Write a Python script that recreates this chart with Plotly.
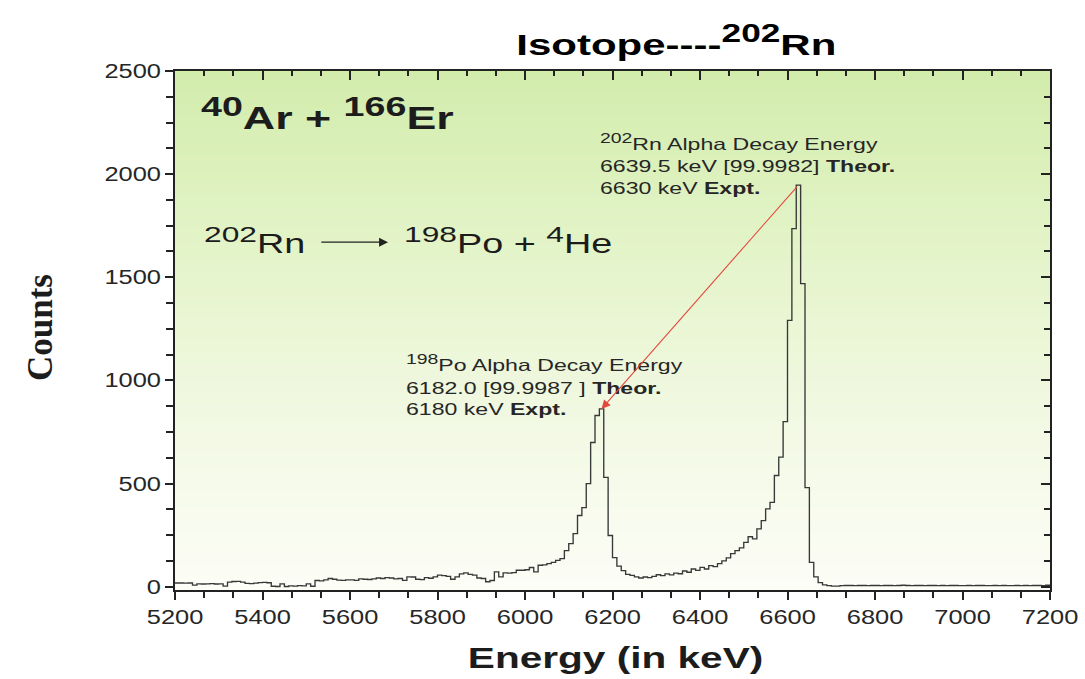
import numpy as np
import plotly.graph_objects as go

# ---------------- spectrum data: counts per 10 keV channel ----------------
E_MIN, E_MAX, CHANNEL_KEV = 5200, 7200, 10

counts_5200_5390 = [18, 18, 17, 18, 8, 14, 13, 14, 15, 13, 14, 3, 22, 25, 26, 22, 16, 15, 17, 20]
counts_5400_5590 = [21, 19, 2, 1, 14, 1, 4, 3, 5, 4, 14, 2, 30, 28, 33, 40, 36, 32, 31, 33]
counts_5600_5790 = [33, 31, 38, 36, 35, 38, 42, 40, 44, 42, 38, 40, 31, 48, 47, 36, 34, 44, 41, 48]
counts_5800_5990 = [56, 54, 50, 36, 48, 62, 67, 60, 56, 42, 40, 24, 30, 72, 48, 67, 66, 68, 80, 80]
counts_6000_6190 = [82, 93, 72, 104, 106, 112, 118, 128, 136, 175, 209, 257, 345, 383, 500, 699, 830, 862, 530, 248]
counts_6200_6390 = [141, 100, 78, 60, 55, 48, 42, 47, 44, 50, 58, 54, 62, 57, 66, 63, 76, 70, 86, 79]
counts_6400_6590 = [94, 86, 102, 97, 112, 125, 140, 160, 175, 188, 215, 242, 232, 280, 320, 377, 409, 539, 628, 800]
counts_6600_6790 = [1291, 1736, 1947, 1469, 480, 118, 48, 20, 9, 5, 3, 3, 5, 6, 6, 5, 6, 6, 5, 6]
counts_6800_6990 = [6, 5, 6, 6, 5, 6, 7, 6, 5, 6, 6, 5, 6, 6, 5, 6, 5, 6, 6, 5]
counts_7000_7190 = [5, 6, 5, 6, 6, 5, 5, 6, 5, 6, 5, 5, 6, 5, 6, 5, 6, 6, 5, 7]

counts = (counts_5200_5390 + counts_5400_5590 + counts_5600_5790 + counts_5800_5990
          + counts_6000_6190 + counts_6200_6390 + counts_6400_6590 + counts_6600_6790
          + counts_6800_6990 + counts_7000_7190)

# axis ticks
x_ticks = [5200, 5400, 5600, 5800, 6000, 6200, 6400, 6600, 6800, 7000, 7200]
y_ticks = [0, 500, 1000, 1500, 2000, 2500]
Y_MIN, Y_MAX = -16, 2500

# channel edges and step outline
edges = E_MIN + CHANNEL_KEV * np.arange(len(counts) + 1)
step_y = counts + [counts[-1]]

# peak channels (for the connecting arrow)
po_idx = 80 + int(np.argmax(counts_6000_6190))
rn_idx = 140 + int(np.argmax(counts_6600_6790))
po_E, po_N = edges[po_idx] + CHANNEL_KEV / 2, counts[po_idx]
rn_E, rn_N = edges[rn_idx] + CHANNEL_KEV / 2, counts[rn_idx]

SANS = "Liberation Sans"
SERIF = "Liberation Serif"
INK = "#1c1c1c"
FRAME = "#222222"


def sup(s):
    return f"<sup><span style='font-size:120%'>{s}</span></sup>"


fig = go.Figure()

fig.add_trace(go.Scatter(
    x=edges, y=step_y, mode="lines",
    line=dict(shape="hv", color="#383838", width=1.35),
    hoverinfo="skip", showlegend=False,
))
# companion trace so the mirrored (inside-tick) axes are drawn
fig.add_trace(go.Scatter(x=[None], y=[None], xaxis="x2", yaxis="y2",
                         mode="lines", hoverinfo="skip", showlegend=False))

# ---------------- background gradient inside the frame ----------------
stops = [(0.0, (210, 236, 172)), (0.35, (228, 244, 201)),
         (0.7, (243, 249, 229)), (1.0, (252, 253, 246))]


def grad(t):
    for (t0, c0), (t1, c1) in zip(stops[:-1], stops[1:]):
        if t <= t1:
            f = (t - t0) / (t1 - t0)
            return tuple(round(a + (b - a) * f) for a, b in zip(c0, c1))
    return stops[-1][1]


N_BANDS = 90
for i in range(N_BANDS):
    t = (i + 0.5) / N_BANDS
    r, g, b = grad(t)
    fig.add_shape(type="rect", xref="x domain", yref="y domain",
                  x0=0, x1=1, y0=1 - (i + 1) / N_BANDS, y1=1 - i / N_BANDS + 0.002,
                  line_width=0, fillcolor=f"rgb({r},{g},{b})", layer="below")

# ---------------- axes ----------------
tickfont = dict(family=SANS, size=20, color="#262626")
fig.update_layout(
    width=1085, height=679,
    margin=dict(l=175, r=35, t=71, b=89),
    paper_bgcolor="white", plot_bgcolor="white",
    showlegend=False,
    xaxis=dict(range=[E_MIN, E_MAX], tickvals=x_ticks, ticks="outside", ticklen=8,
               tickwidth=1.7, tickcolor=FRAME, showgrid=False, zeroline=False,
               showline=True, linewidth=2.2, linecolor=FRAME, mirror=True,
               tickfont=tickfont, automargin=False,
               minor=dict(dtick=200 / 3, tick0=E_MIN, ticks="outside", ticklen=6,
                          tickwidth=1.5, tickcolor=FRAME, showgrid=False)),
    yaxis=dict(range=[Y_MIN, Y_MAX], tickvals=y_ticks, ticks="outside", ticklen=8,
               tickwidth=1.7, tickcolor=FRAME, showgrid=False, zeroline=False,
               showline=True, linewidth=2.2, linecolor=FRAME, mirror=True,
               tickfont=tickfont, automargin=False,
               minor=dict(dtick=125, tick0=0, ticks="outside", ticklen=7,
                          tickwidth=1.5, tickcolor=FRAME, showgrid=False)),
    xaxis2=dict(overlaying="x", side="top", anchor="y", range=[E_MIN, E_MAX],
                tickvals=x_ticks, ticks="inside", ticklen=9, tickwidth=1.7,
                tickcolor=FRAME, showticklabels=False, showgrid=False,
                zeroline=False, showline=False, automargin=False,
                minor=dict(dtick=200 / 3, tick0=E_MIN, ticks="inside", ticklen=5,
                           tickwidth=1.5, tickcolor=FRAME, showgrid=False)),
    yaxis2=dict(overlaying="y", side="right", anchor="x", range=[Y_MIN, Y_MAX],
                tickvals=y_ticks, ticks="inside", ticklen=9, tickwidth=1.7,
                tickcolor=FRAME, showticklabels=False, showgrid=False,
                zeroline=False, showline=False, automargin=False,
                minor=dict(dtick=125, tick0=0, ticks="inside", ticklen=6,
                           tickwidth=1.5, tickcolor=FRAME, showgrid=False)),
)

# ---------------- titles ----------------
fig.add_annotation(text=f"<b>Isotope----{sup('202')}Rn</b>", xref="paper", yref="paper",
                   x=0.5726, y=1.06, xanchor="center", yanchor="middle", showarrow=False,
                   font=dict(family=SANS, size=30, color="black"))
fig.add_annotation(text="<b>Energy (in keV)</b>", xref="paper", yref="paper",
                   x=0.503, y=-0.131, xanchor="center", yanchor="middle", showarrow=False,
                   font=dict(family=SANS, size=29, color=INK))
fig.add_annotation(text="<b>Counts</b>", xref="paper", yref="paper",
                   x=-0.153, y=0.505, xanchor="center", yanchor="middle", showarrow=False,
                   textangle=-90, font=dict(family=SERIF, size=35, color=INK))

# ---------------- reaction labels ----------------
fig.add_annotation(text=f"<b>{sup('40')}Ar + {sup('166')}Er</b>", x=5255, y=2290,
                   xanchor="left", yanchor="middle", align="left", showarrow=False,
                   font=dict(family=SANS, size=32, color=INK))
fig.add_annotation(text=f"{sup('202')}Rn", x=5261, y=1680,
                   xanchor="left", yanchor="middle", align="left", showarrow=False,
                   font=dict(family=SANS, size=27, color=INK))
fig.add_annotation(text=f"{sup('198')}Po + {sup('4')}He", x=5719, y=1680,
                   xanchor="left", yanchor="middle", align="left", showarrow=False,
                   font=dict(family=SANS, size=27, color=INK))
fig.add_annotation(x=5687, y=1670, ax=5531, ay=1670, axref="x", ayref="y", text="",
                   showarrow=True, arrowhead=2, arrowsize=1.5, arrowwidth=1.2,
                   arrowcolor="#222222")

# ---------------- peak labels ----------------
label_font = dict(family=SANS, size=16.5, color="#262626")
rn_lines = [(f"{sup('202')}Rn Alpha Decay Energy", 2160),
            ("6639.5 keV [99.9982] <b>Theor.</b>", 2038),
            ("6630 keV <b>Expt.</b>", 1934)]
po_lines = [(f"{sup('198')}Po Alpha Decay Energy", 1085),
            ("6182.0 [99.9987 ] <b>Theor.</b>", 963),
            ("6180 keV <b>Expt.</b>", 861)]
for txt, yy in rn_lines:
    fig.add_annotation(text=txt, x=6166, y=yy, xanchor="left", yanchor="middle",
                       align="left", showarrow=False, font=label_font)
for txt, yy in po_lines:
    fig.add_annotation(text=txt, x=5724, y=yy, xanchor="left", yanchor="middle",
                       align="left", showarrow=False, font=label_font)

# red arrow from the 202Rn peak to the 198Po peak
fig.add_annotation(x=po_E, y=po_N, ax=rn_E, ay=rn_N, axref="x", ayref="y", text="",
                   showarrow=True, arrowhead=2, arrowsize=1.6, arrowwidth=1.1,
                   arrowcolor="#e5473d", standoff=0)

# widen the lettering horizontally (wide typesetting of the original figure)
stretch_js = r"""
var gd = document.getElementById('{plot_id}');
var SX = 1.4, SX_TICK = 1.27;
function rotated(el) {
  for (var n = el; n && n !== gd; n = n.parentNode) {
    var tr = n.getAttribute && n.getAttribute('transform');
    if (tr) {
      var m = tr.match(/rotate\(\s*(-?[\d.]+)/);
      if (m && Math.abs(parseFloat(m[1])) > 0.01) return true;
    }
  }
  return false;
}
gd.querySelectorAll('svg text').forEach(function (t) {
  if (rotated(t)) return;
  var bb;
  try { bb = t.getBBox(); } catch (e) { return; }
  if (!bb || !bb.width) return;
  var s = t.closest('.xtick, .ytick') ? SX_TICK : SX;
  var a = t.getAttribute('text-anchor') || getComputedStyle(t).textAnchor || 'start';
  var cx = a === 'middle' ? bb.x + bb.width / 2 : (a === 'end' ? bb.x + bb.width : bb.x);
  var tr = t.getAttribute('transform') || '';
  t.setAttribute('transform', tr + ' translate(' + cx + ',0) scale(' + s + ',1) translate(' + (-cx) + ',0)');
});
"""

fig.write_html("out.html", config={"displayModeBar": False}, post_script=stretch_js)
